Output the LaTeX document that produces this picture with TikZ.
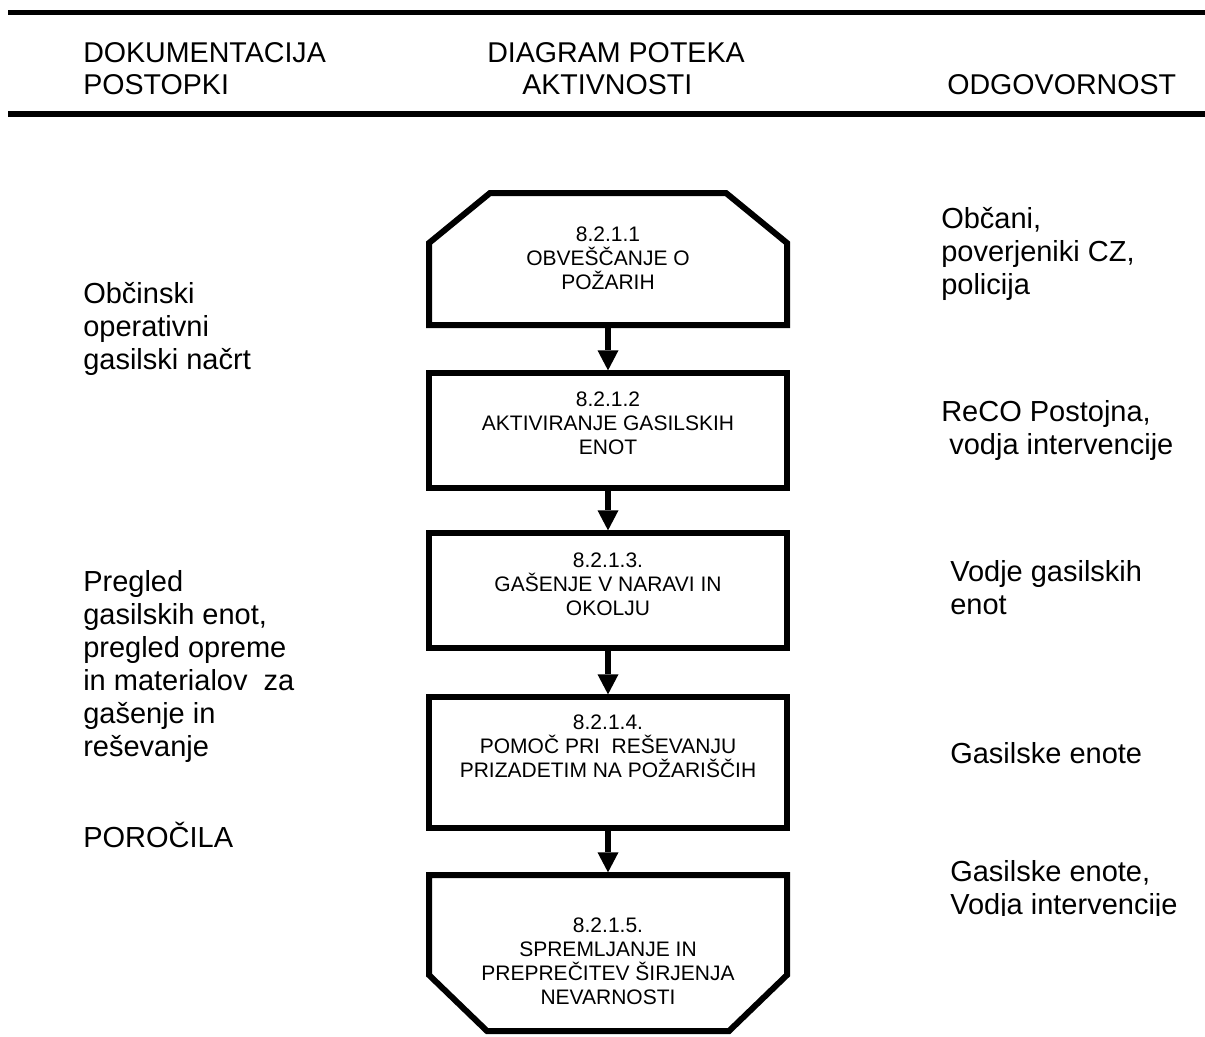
\documentclass[tikz,border=0pt]{standalone}
\usepackage{fontspec}
\setmainfont{Liberation Sans}
\usetikzlibrary{arrows.meta,calc}
\begin{document}
\begin{tikzpicture}[x=0.75pt,y=-0.75pt,
  rule/.style={line width=4.5pt},
  boxline/.style={line width=4.5pt, line join=miter},
  boxshape/.style={rectangle, inner sep=0pt, outer sep=0pt, minimum width=268.5pt},
  boxtext/.style={anchor=north, inner sep=0pt, align=center, font=\fontsize{15.75pt}{18pt}\selectfont},
  hdr/.style={anchor=north west, inner sep=0pt, align=left, font=\fontsize{21.45pt}{24pt}\selectfont},
  side/.style={anchor=north west, inner sep=0pt, align=left, font=\fontsize{21.75pt}{24.75pt}\selectfont},
  flow/.style={line width=4.5pt, -{Triangle[width=15.75pt,length=15pt,line width=0pt]}, shorten >=2pt}
]
\useasboundingbox (0,0) rectangle (1205,1036);

% header rules
\coordinate (r1a) at (8,12.5);  \coordinate (r1b) at (1205,12.5);
\coordinate (r2a) at (8,114);   \coordinate (r2b) at (1205,114);
\draw[line width=3.75pt] (r1a) -- (r1b);
\draw[rule] (r2a) -- (r2b);

% header texts
\node[hdr] (h1) at (83,42) {DOKUMENTACIJA\\POSTOPKI};
\node[hdr] (h2) at (487,42) {DIAGRAM POTEKA};
\node[hdr] (h3) at (522,74) {AKTIVNOSTI};
\node[hdr] (h4) at (947,74) {ODGOVORNOST};

% boxes (invisible frames for the chamfered ones, outlines drawn below)
\node[boxshape, minimum height=99pt]    (b1) at (608,259) {};
\node[boxshape, minimum height=86.25pt, draw, boxline] (b2) at (608,430.5) {};
\node[boxshape, minimum height=86.25pt, draw, boxline] (b3) at (608,590.5) {};
\node[boxshape, minimum height=98.25pt, draw, boxline] (b4) at (608,762.5) {};
\node[boxshape, minimum height=117pt]   (b5) at (608,953) {};

\draw[boxline] ($(b1.north west)+(61,0)$) -- ($(b1.north east)+(-61,0)$) -- ($(b1.north east)+(0,50)$)
  -- (b1.south east) -- (b1.south west) -- ($(b1.north west)+(0,50)$) -- cycle;
\draw[boxline] (b5.north west) -- (b5.north east) -- ($(b5.south east)+(0,-56)$)
  -- ($(b5.south east)+(-58,0)$) -- ($(b5.south west)+(58,0)$) -- ($(b5.south west)+(0,-56)$) -- cycle;

% box texts
\node[boxtext] (t1) at (608,227) {8.2.1.1\\OBVEŠČANJE O\\POŽARIH};
\node[boxtext] (t2) at (608,392) {8.2.1.2\\AKTIVIRANJE GASILSKIH\\ENOT};
\node[boxtext] (t3) at (608,553) {8.2.1.3.\\GAŠENJE V NARAVI IN\\OKOLJU};
\node[boxtext] (t4) at (608,715) {8.2.1.4.\\POMOČ PRI~ REŠEVANJU\\PRIZADETIM NA POŽARIŠČIH};
\node[boxtext] (t5) at (608,918) {8.2.1.5.\\SPREMLJANJE IN\\PREPREČITEV ŠIRJENJA\\NEVARNOSTI};

% connectors
\draw[flow] (b1.south) -- (b2.north);
\draw[flow] (b2.south) -- (b3.north);
\draw[flow] (b3.south) -- (b4.north);
\draw[flow] (b4.south) -- (b5.north);

% left column
\node[side] (l1) at (83,282) {Občinski\\operativni\\gasilski načrt};
\node[side] (l2) at (83,570) {Pregled\\gasilskih enot,\\pregled opreme\\in materialov~ za\\gašenje in\\reševanje};
\node[side] (l3) at (83,822) {POROČILA};

% right column
\node[side] (r1) at (941,207) {Občani,\\poverjeniki CZ,\\policija};
\node[side] (r2) at (941,400) {ReCO Postojna,\\\ vodja intervencije};
\node[side] (r3) at (950,560) {Vodje gasilskih\\enot};
\node[side] (r4) at (950,742) {Gasilske enote};
\begin{scope}
\clip (900,840) rectangle (1205,915);
\node[side] (r5) at (950,860) {Gasilske enote,\\Vodja intervencije};
\end{scope}
\end{tikzpicture}
\end{document}
